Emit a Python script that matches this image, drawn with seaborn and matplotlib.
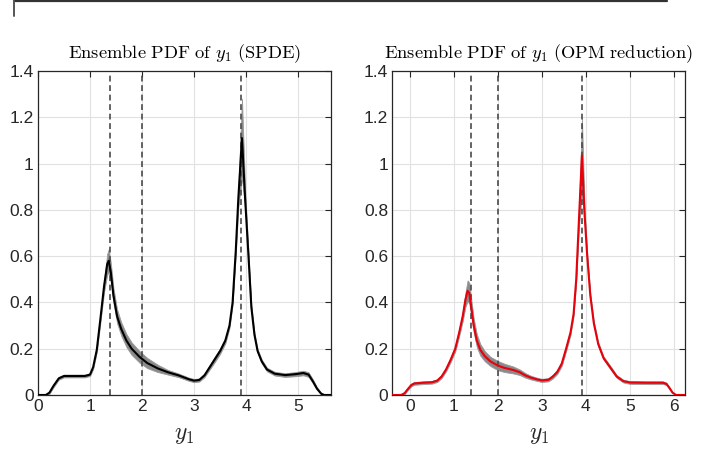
import numpy as np
import seaborn as sns
import matplotlib.pyplot as plt
from matplotlib.lines import Line2D

# curve values: x, ensemble mean, half width of the gray band
x_spde = [0.0, 0.15, 0.22, 0.3, 0.4, 0.5, 0.7, 0.9, 1.0, 1.06, 1.13, 1.2, 1.27, 1.33, 1.36,
          1.4, 1.45, 1.52, 1.6, 1.7, 1.8, 1.95, 2.1, 2.3, 2.5, 2.7, 2.9, 3.0, 3.1, 3.2,
          3.3, 3.4, 3.5, 3.6, 3.68, 3.74, 3.8, 3.85, 3.92, 3.98, 4.04, 4.1, 4.16, 4.22,
          4.3, 4.4, 4.55, 4.75, 4.95, 5.1, 5.2, 5.28, 5.36, 5.44, 5.5, 5.63]
pdf_spde = [0.0, 0.0, 0.01, 0.04, 0.072, 0.082, 0.082, 0.082, 0.088, 0.12, 0.195, 0.33, 0.47, 0.565, 0.58,
            0.53, 0.43, 0.34, 0.285, 0.235, 0.2, 0.165, 0.138, 0.115, 0.098, 0.085, 0.068, 0.062, 0.065, 0.085,
            0.12, 0.155, 0.19, 0.235, 0.3, 0.4, 0.62, 0.85, 1.11, 0.85, 0.62, 0.38, 0.26, 0.19,
            0.145, 0.11, 0.092, 0.086, 0.09, 0.095, 0.088, 0.06, 0.028, 0.006, 0.0, 0.0]
band_spde = [0.0, 0.002, 0.005, 0.006, 0.006, 0.006, 0.006, 0.006, 0.006, 0.008, 0.01, 0.015, 0.025, 0.045, 0.05,
             0.04, 0.032, 0.03, 0.029, 0.028, 0.027, 0.025, 0.022, 0.016, 0.01, 0.008, 0.007, 0.007, 0.007, 0.008,
             0.01, 0.012, 0.012, 0.012, 0.01, 0.01, 0.015, 0.04, 0.17, 0.04, 0.015, 0.01, 0.008, 0.008,
             0.008, 0.008, 0.008, 0.008, 0.009, 0.01, 0.01, 0.008, 0.006, 0.003, 0.0, 0.0]

x_opm = [-0.4, -0.2, -0.12, -0.05, 0.03, 0.1, 0.3, 0.5, 0.62, 0.72, 0.82, 0.92, 1.03, 1.12, 1.2,
         1.26, 1.31, 1.35, 1.4, 1.45, 1.52, 1.6, 1.7, 1.83, 2.0, 2.15, 2.35, 2.5, 2.62, 2.75,
         2.9, 3.0, 3.15, 3.25, 3.35, 3.45, 3.55, 3.65, 3.72, 3.78, 3.84, 3.91, 3.97, 4.03, 4.1,
         4.18, 4.28, 4.4, 4.55, 4.7, 4.85, 5.0, 5.4, 5.75, 5.83, 5.9, 5.97, 6.05, 6.26]
pdf_opm = [0.0, 0.0, 0.008, 0.025, 0.043, 0.05, 0.053, 0.055, 0.062, 0.08, 0.11, 0.15, 0.2, 0.27, 0.34,
           0.41, 0.45, 0.44, 0.37, 0.3, 0.235, 0.195, 0.168, 0.145, 0.127, 0.117, 0.108, 0.098, 0.085, 0.075,
           0.067, 0.063, 0.066, 0.08, 0.1, 0.135, 0.2, 0.27, 0.35, 0.5, 0.75, 1.035, 0.78, 0.6, 0.43,
           0.31, 0.22, 0.16, 0.12, 0.08, 0.06, 0.054, 0.053, 0.053, 0.048, 0.03, 0.01, 0.0, 0.0]
band_opm = [0.0, 0.002, 0.004, 0.005, 0.006, 0.006, 0.006, 0.006, 0.006, 0.007, 0.008, 0.01, 0.012, 0.015, 0.02,
            0.03, 0.045, 0.045, 0.035, 0.03, 0.028, 0.025, 0.022, 0.02, 0.02, 0.018, 0.015, 0.012, 0.01, 0.008,
            0.007, 0.007, 0.007, 0.008, 0.009, 0.01, 0.01, 0.01, 0.01, 0.012, 0.03, 0.16, 0.03, 0.012, 0.01,
            0.008, 0.008, 0.007, 0.007, 0.006, 0.006, 0.006, 0.006, 0.006, 0.005, 0.004, 0.002, 0.0, 0.0]

vlines = [1.39, 2.0, 3.9]
titles = [r"$\mathrm{Ensemble\ PDF\ of\ }y_1\mathrm{\ (SPDE)}$",
          r"$\mathrm{Ensemble\ PDF\ of\ }y_1\mathrm{\ (OPM\ reduction)}$"]

sns.set_style("whitegrid")
plt.rcParams['font.family'] = ['Liberation Sans', 'DejaVu Sans']
plt.rcParams['mathtext.fontset'] = 'cm'

fig = plt.figure(figsize=(7.22, 4.55), dpi=100)
ax1 = fig.add_axes([0.0526, 0.1319, 0.4058, 0.7121])
ax2 = fig.add_axes([0.5434, 0.1319, 0.4058, 0.7121])

panels = [
    (ax1, x_spde, pdf_spde, band_spde, "black", (0, 5.63), [0, 1, 2, 3, 4, 5]),
    (ax2, x_opm, pdf_opm, band_opm, "#e8000b", (-0.4, 6.26), [0, 1, 2, 3, 4, 5, 6]),
]

for i, (ax, xs, ys, bw, col, xl, xt) in enumerate(panels):
    xs = np.array(xs); ys = np.array(ys); bw = np.array(bw)
    ax.fill_between(xs, ys - bw, ys + bw, color="#8a8a8a", lw=0.6, edgecolor="#9a9a9a", zorder=2)
    for v in vlines:
        ax.axvline(v, color="#4a4a4a", lw=1.2, ls=(0, (3.5, 2.2)), zorder=2.5)
    sns.lineplot(x=xs, y=ys, ax=ax, color=col, lw=1.5, zorder=3)
    ax.set_xlim(*xl)
    ax.set_ylim(0, 1.4)
    ax.set_xticks(xt)
    ax.set_yticks([0, 0.2, 0.4, 0.6, 0.8, 1, 1.2, 1.4])
    ax.set_yticklabels(["0", "0.2", "0.4", "0.6", "0.8", "1", "1.2", "1.4"])
    ax.grid(True, color="#e1e1e1", lw=0.8)
    ax.set_axisbelow(True)
    for s in ax.spines.values():
        s.set_color("#262626")
        s.set_linewidth(0.9)
    ax.tick_params(direction="in", length=4, width=0.8, top=True, right=True,
                   labelsize=12.5, colors="#262626", pad=3)
    ax.tick_params(axis="both", labelcolor="#262626")
    ax.set_title(titles[i], fontsize=13.3, pad=9, color="black")
    ax.set_xlabel(r"$y_1$", fontsize=17, labelpad=7)
    ax.set_ylabel("")

# cropped frame at the top of the figure
fig.add_artist(Line2D([13.7 / 722, 667 / 722], [1 - 1 / 455, 1 - 1 / 455], color="#333333", lw=1.6))
fig.add_artist(Line2D([13.7 / 722, 13.7 / 722], [1 - 1 / 455, 1 - 16 / 455], color="#555555", lw=1.4))

fig.savefig("out.png", dpi=100)
